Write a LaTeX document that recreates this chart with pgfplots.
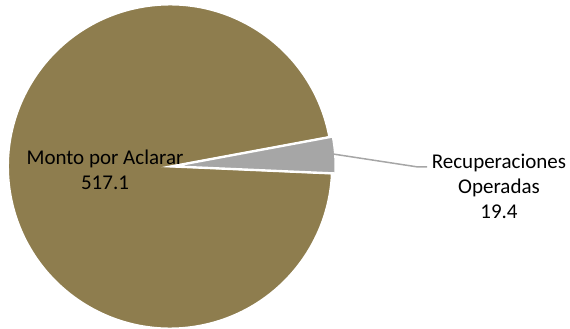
\documentclass[border=0pt]{standalone}
\usepackage{pgfplots}
\usepackage{pgfplotstable}
\pgfplotsset{compat=1.18}
\usepackage{fontspec}
\setmainfont{Carlito}
\definecolor{pieOlive}{RGB}{142,125,78}
\definecolor{pieGray}{RGB}{166,166,166}

\pgfplotstableread[col sep=comma]{
label,value
Monto por Aclarar,517.1
Recuperaciones Operadas,19.4
}\piedata

\begin{document}
\begin{tikzpicture}
\path[use as bounding box] (0,0) rectangle (570bp,329bp);
\pgfplotstablegetelem{0}{value}\of\piedata \let\vA\pgfplotsretval
\pgfplotstablegetelem{1}{value}\of\piedata \let\vB\pgfplotsretval
\pgfmathsetmacro\startB{-2.5}
\pgfmathsetmacro\endB{\startB+360*\vB/(\vA+\vB)}
\pgfmathsetmacro\endA{\startB+360}
\pgfmathsetmacro\midB{(\startB+\endB)/2}
\begin{axis}[hide axis, x=1bp, y=1bp, xmin=0, xmax=570, ymin=0, ymax=329,
  clip=false, anchor=origin, at={(0,0)}]
\fill[pieOlive, draw=white, line width=2bp]
  (axis cs:170,162.5) -- ++(\endB:162bp)
  arc[start angle=\endB, end angle=\endA, radius=162bp] -- cycle;
\fill[pieGray, draw=white, line width=2bp]
  ([shift={(\midB:3.5bp)}]axis cs:170,162.5) -- ++(\startB:162bp)
  arc[start angle=\startB, end angle=\endB, radius=162bp] -- cycle;
\addplot[pieGray, line width=1.5bp, no marks] coordinates {(333,175) (418,162) (427,162)};
\node[font=\fontsize{21bp}{25bp}\selectfont, align=center, text=black]
  at (axis cs:105,159.5) {Monto por Aclarar\\517.1};
\node[font=\fontsize{21bp}{25bp}\selectfont, align=center, text=black]
  at (axis cs:499,143) {Recuperaciones\\Operadas\\19.4};
\end{axis}
\end{tikzpicture}
\end{document}
